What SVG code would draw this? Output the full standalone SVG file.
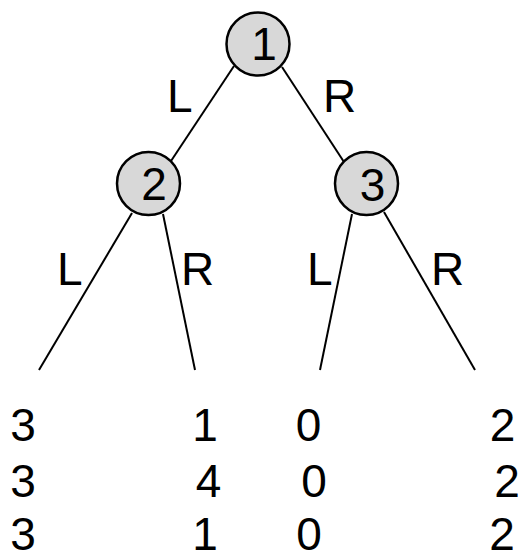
<svg xmlns="http://www.w3.org/2000/svg" width="521" height="554" viewBox="0 0 521 554">
<style>
.node{fill:#d8d8d8;stroke:#000;stroke-width:2.5}
.edge{stroke:#000;stroke-width:2;fill:none}
text{font-family:"Liberation Sans",Arial,sans-serif;font-size:46px;fill:#000}
.m{text-anchor:middle}
</style>
<rect width="521" height="554" fill="#fff"/>
<g id="connectors">
<line class="edge" x1="234" y1="66" x2="171" y2="161"/>
<line class="edge" x1="282" y1="67" x2="344" y2="162"/>
<line class="edge" x1="132" y1="213" x2="39" y2="370"/>
<line class="edge" x1="163" y1="214" x2="195" y2="370"/>
<line class="edge" x1="352" y1="214" x2="320" y2="370"/>
<line class="edge" x1="384" y1="212" x2="475" y2="370"/>
</g>
<g id="edge-labels">
<text x="167" y="112">L</text>
<text x="323" y="112">R</text>
<text x="57" y="285">L</text>
<text x="181" y="285">R</text>
<text x="307" y="285">L</text>
<text x="431" y="285">R</text>
</g>
<g id="node1">
<circle class="node" cx="258" cy="44" r="31.5"/>
<text class="m" x="264" y="60">1</text>
</g>
<g id="node2">
<circle class="node" cx="148.5" cy="183.5" r="31.5"/>
<text class="m" x="154" y="200">2</text>
</g>
<g id="node3">
<circle class="node" cx="366.5" cy="183.5" r="31.5"/>
<text class="m" x="372.5" y="201">3</text>
</g>
<g id="payoffs">
<text class="m" x="23" y="441">3</text>
<text class="m" x="205" y="441">1</text>
<text class="m" x="308.5" y="441">0</text>
<text class="m" x="502.5" y="441">2</text>
<text class="m" x="23" y="497">3</text>
<text class="m" x="208.5" y="497">4</text>
<text class="m" x="314" y="497">0</text>
<text class="m" x="507" y="497">2</text>
<text class="m" x="23" y="550">3</text>
<text class="m" x="205" y="550">1</text>
<text class="m" x="309" y="550">0</text>
<text class="m" x="502" y="550">2</text>
</g>
</svg>
